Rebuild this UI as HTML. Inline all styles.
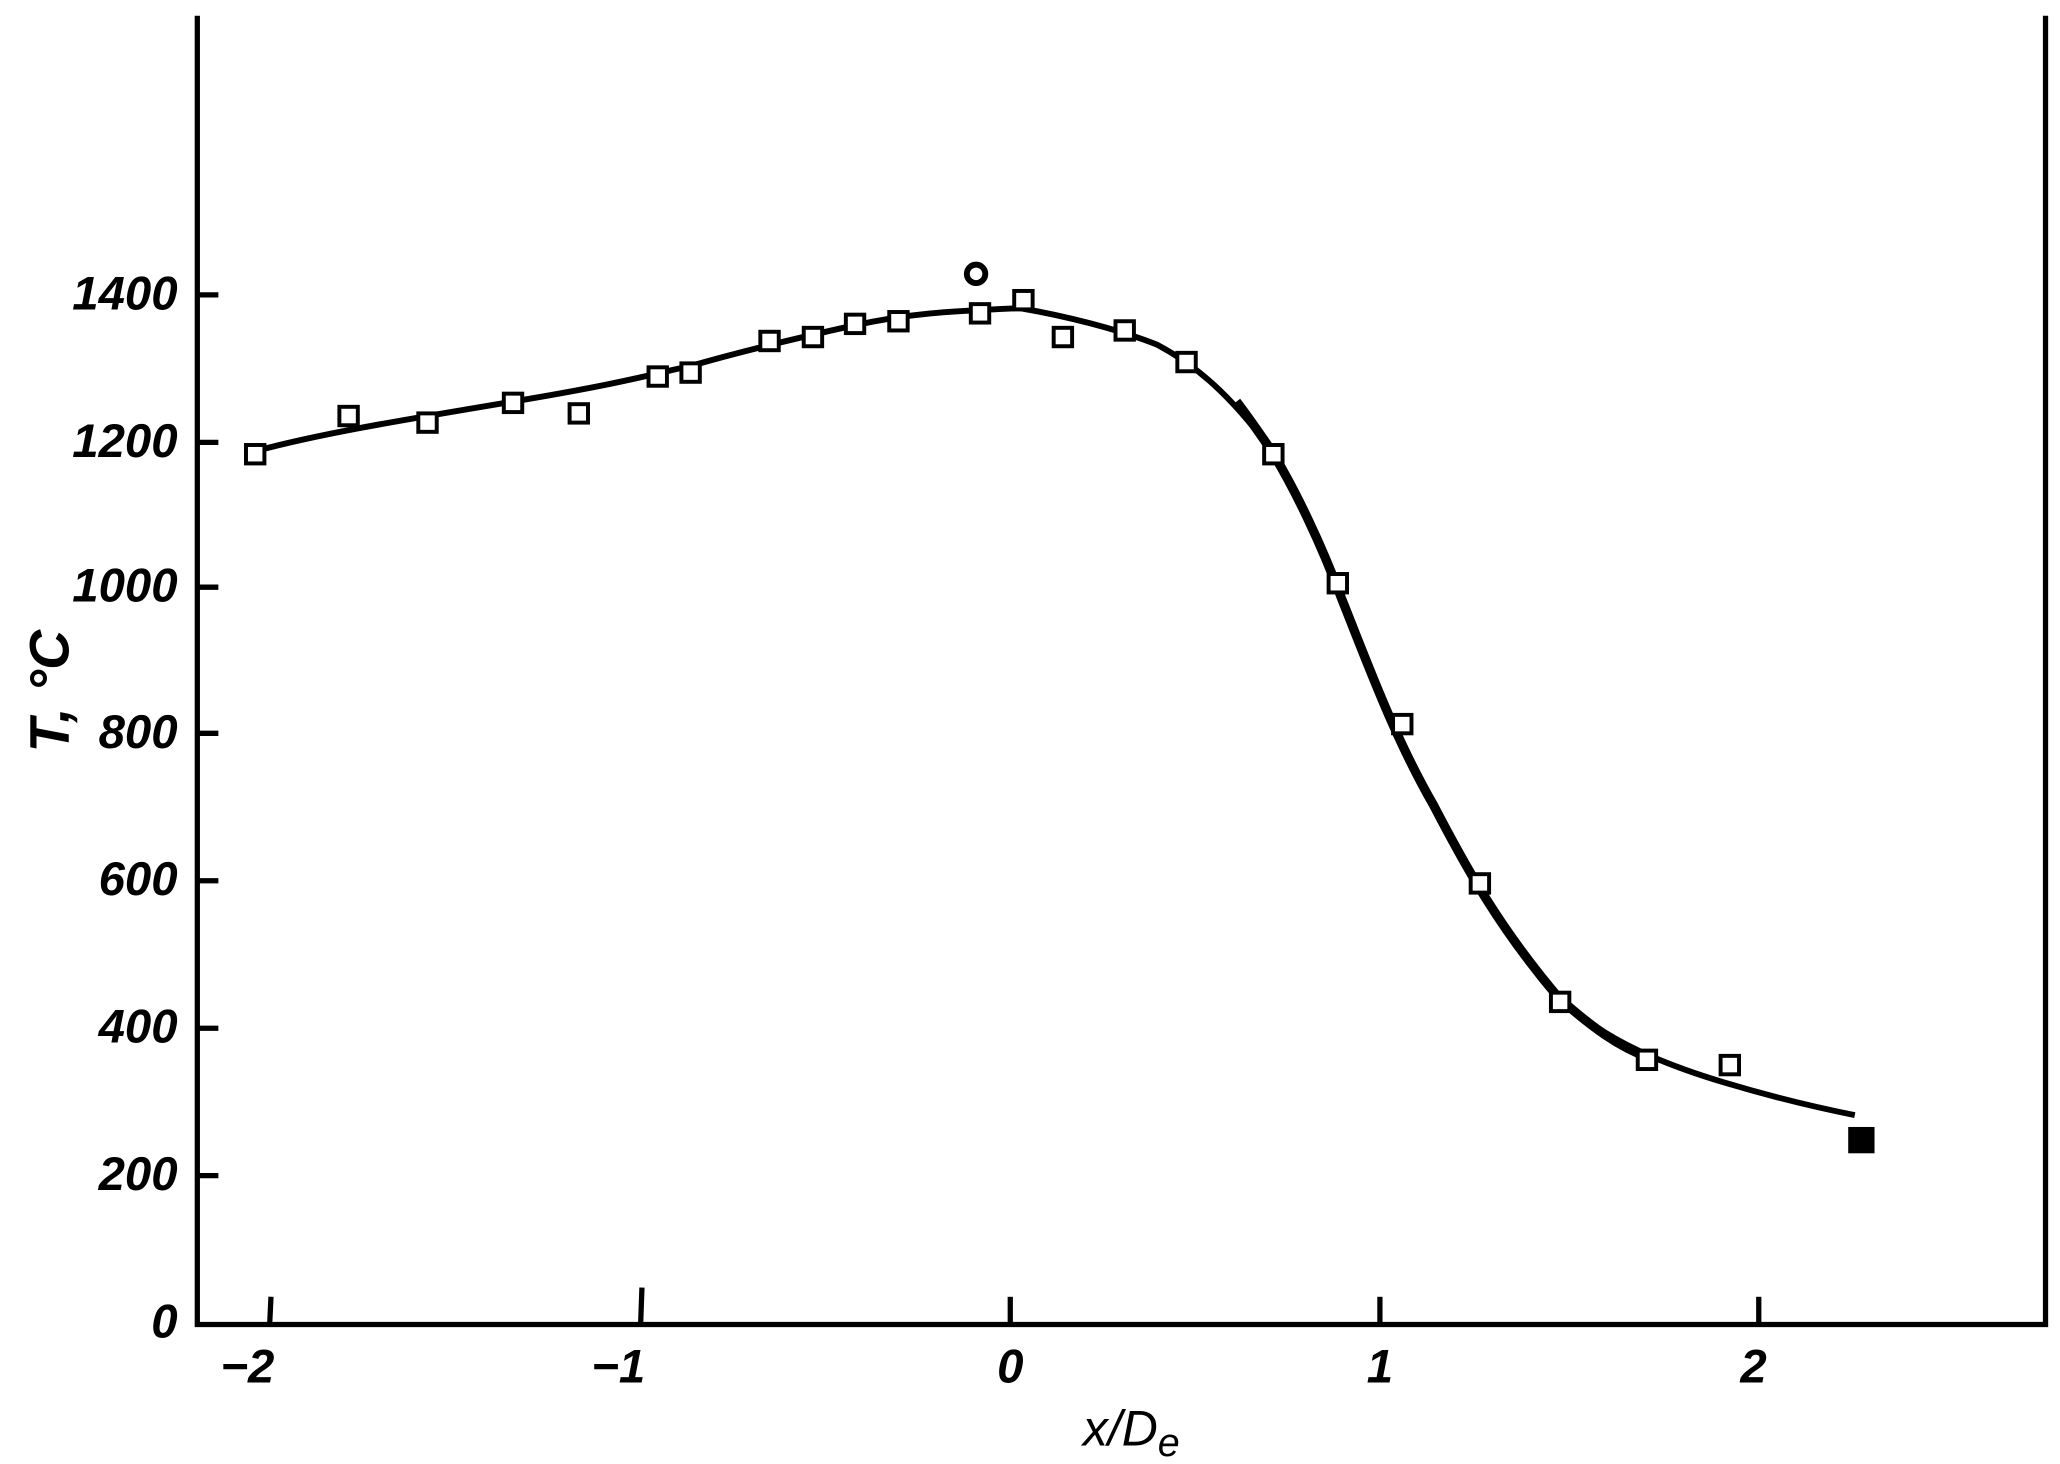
<!DOCTYPE html>
<html><head><meta charset="utf-8"><style>
html,body{margin:0;padding:0;background:#fff;}
svg{display:block;}
text{font-family:"Liberation Sans",sans-serif;font-style:italic;fill:#000;}
</style></head><body>
<svg width="2060" height="1464" viewBox="0 0 1566 1112" preserveAspectRatio="none" xmlns="http://www.w3.org/2000/svg">
<rect x="0" y="0" width="1566" height="1112" fill="#fff"/>
<path d="M150,12 L150,1006 L1555,1006 L1555,12" fill="none" stroke="#000" stroke-width="4"/>
<g stroke="#000" stroke-width="4">
<line x1="150" y1="893" x2="166" y2="893"/><line x1="150" y1="781" x2="166" y2="781"/>
<line x1="150" y1="669" x2="166" y2="669"/><line x1="150" y1="557" x2="166" y2="557"/>
<line x1="150" y1="446" x2="166" y2="446"/><line x1="150" y1="336" x2="166" y2="336"/>
<line x1="150" y1="224" x2="166" y2="224"/>
<line x1="205" y1="1006" x2="206" y2="985"/><line x1="487" y1="1006" x2="488" y2="978"/>
<line x1="768" y1="1006" x2="768" y2="985"/><line x1="1049" y1="1006" x2="1049" y2="985"/>
<line x1="1337" y1="1006" x2="1337" y2="985"/>
</g>
<g font-size="36" font-weight="bold" text-anchor="end">
<text x="135" y="1016">0</text><text x="135" y="904">200</text><text x="135" y="792">400</text>
<text x="135" y="680">600</text><text x="135" y="568">800</text><text x="135" y="457">1000</text>
<text x="135" y="347">1200</text><text x="135" y="235">1400</text>
</g>
<g font-size="36" font-weight="bold" text-anchor="middle">
<text x="188" y="1050">−2</text><text x="470" y="1050">−1</text><text x="768" y="1050">0</text>
<text x="1049" y="1050">1</text><text x="1333" y="1050">2</text>
</g>
<text x="860" y="1098" font-size="38" font-family="Liberation Serif" text-anchor="middle">x/D<tspan font-size="30" dy="8">e</tspan></text>
<text transform="translate(52,525) rotate(-90)" font-size="42" font-weight="bold" font-family="Liberation Serif" text-anchor="middle">T, °C</text>
<path d="M193,343 C240,330 300,320 390,305 S500,283 525,278 C560,268 600,258 650,247 S740,236 775,234 C810,240 850,250 880,262 C910,278 935,300 965,340 C985,372 1005,415 1020,455 C1040,505 1060,560 1090,612 C1115,660 1140,705 1185,758 C1215,785 1250,804 1310,822 C1350,834 1380,841 1410,847" fill="none" stroke="#000" stroke-width="4.5" stroke-linejoin="round"/>
<path d="M940,305 C950,318 958,330 965,340 C985,372 1005,415 1020,455 C1040,505 1060,560 1090,612 C1115,660 1140,705 1185,758 C1210,780 1230,795 1255,804" fill="none" stroke="#000" stroke-width="7"/>
<g fill="#fff" stroke="#000" stroke-width="3">
<rect x="187" y="338" width="14" height="14"/><rect x="258" y="309" width="14" height="14"/>
<rect x="318" y="314" width="14" height="14"/><rect x="383" y="299" width="14" height="14"/>
<rect x="433" y="307" width="14" height="14"/><rect x="493" y="279" width="14" height="14"/>
<rect x="518" y="276" width="14" height="14"/><rect x="578" y="252" width="14" height="14"/>
<rect x="611" y="249" width="14" height="14"/><rect x="643" y="239" width="14" height="14"/>
<rect x="676" y="237" width="14" height="14"/><rect x="738" y="231" width="14" height="14"/>
<rect x="771" y="221" width="14" height="14"/><rect x="801" y="249" width="14" height="14"/>
<rect x="848" y="244" width="14" height="14"/><rect x="895" y="268" width="14" height="14"/>
<rect x="961" y="338" width="14" height="14"/><rect x="1010" y="436" width="14" height="14"/>
<rect x="1059" y="543" width="14" height="14"/><rect x="1118" y="664" width="14" height="14"/>
<rect x="1179" y="754" width="14" height="14"/><rect x="1245" y="798" width="14" height="14"/>
<rect x="1308" y="802" width="14" height="14"/>
<circle cx="742" cy="208" r="7" stroke-width="4.5"/>
</g>
<rect x="1405" y="856" width="20" height="20" fill="#000"/>
</svg>
</body></html>
